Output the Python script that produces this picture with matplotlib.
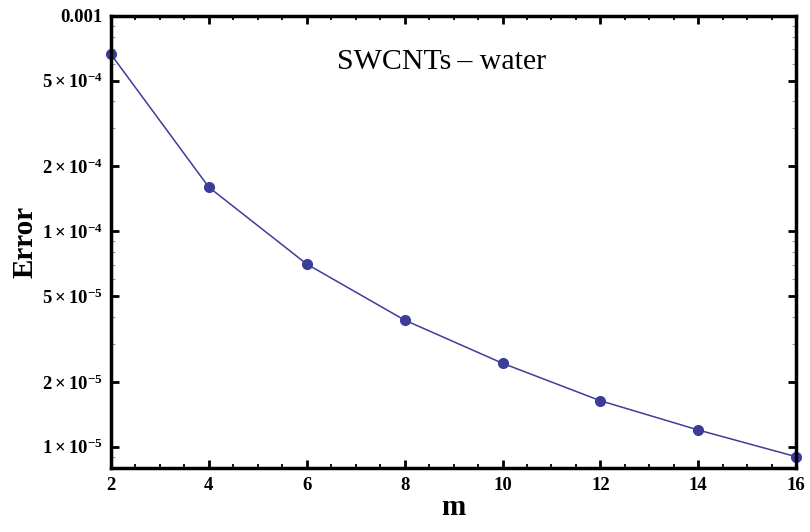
import matplotlib
matplotlib.use('Agg')
import matplotlib.pyplot as plt
import numpy as np
from matplotlib.ticker import FixedLocator, FixedFormatter, MultipleLocator

plt.rcParams['font.family'] = 'Liberation Serif'
plt.rcParams['mathtext.fontset'] = 'custom'
plt.rcParams['mathtext.rm'] = 'Liberation Serif:bold'
plt.rcParams['mathtext.bf'] = 'Liberation Serif:bold'
plt.rcParams['mathtext.it'] = 'Liberation Serif:bold'

# error of the approximation against number of collocation points
m = [2, 4, 6, 8, 10, 12, 14, 16]
err = [6.62e-4, 1.60e-4, 7.04e-5, 3.87e-5, 2.44e-5, 1.635e-5, 1.196e-5, 8.99e-6]

yticks = [1e-3, 5e-4, 2e-4, 1e-4, 5e-5, 2e-5, 1e-5]
ylabels = ['0.001', r'$5\times10^{-4}$', r'$2\times10^{-4}$', r'$1\times10^{-4}$',
           r'$5\times10^{-5}$', r'$2\times10^{-5}$', r'$1\times10^{-5}$']
yminor = [9e-4, 8e-4, 7e-4, 6e-4, 4e-4, 3e-4, 9e-5, 8e-5, 7e-5, 6e-5,
          4e-5, 3e-5, 9e-6, 8e-6]

color = '#3d3d99'

fig = plt.figure(figsize=(8.1, 5.32), dpi=100)
ax = fig.add_axes([0.137, 0.1197, 0.846, 0.8508])

ax.plot(m, err, '-', color=color, lw=1.1)
ax.plot(m, err, 'o', color=color, ms=7, clip_on=False)

ax.set_yscale('log')
ax.set_xlim(2, 16)
ax.set_ylim(10 ** -5.1, 1e-3)

ax.xaxis.set_major_locator(MultipleLocator(2))
ax.xaxis.set_minor_locator(MultipleLocator(0.5))
ax.yaxis.set_major_locator(FixedLocator(yticks))
ax.yaxis.set_major_formatter(FixedFormatter(ylabels))
ax.yaxis.set_minor_locator(FixedLocator(yminor))
ax.yaxis.set_minor_formatter(FixedFormatter([''] * len(yminor)))

for s in ax.spines.values():
    s.set_linewidth(2.5)

ax.tick_params(which='both', direction='in', top=True, right=True,
               labelsize=13.5, pad=6)
ax.tick_params(which='major', length=6, width=2)
ax.tick_params(which='minor', length=3, width=1.3)
ax.tick_params(axis='y', which='minor', color='#999999', width=0.8)
for lbl in ax.get_xticklabels():
    lbl.set_fontweight('bold')
for lbl in ax.get_yticklabels():
    lbl.set_fontweight('bold')

ax.set_xlabel('m', fontsize=21, fontweight='bold', labelpad=0)
ax.set_ylabel('Error', fontsize=21, fontweight='bold', labelpad=2)

ax.text(0.482, 0.898, 'SWCNTs\u2009\u2013 water', transform=ax.transAxes,
        ha='center', va='center', fontsize=21.5)

fig.savefig('out.png', dpi=100)
